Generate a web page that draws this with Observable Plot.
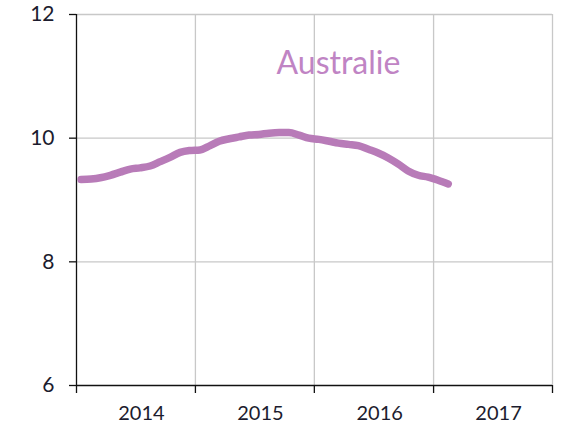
<!DOCTYPE html>
<html><head><meta charset="utf-8">
<script src="https://cdn.jsdelivr.net/npm/d3@7"></script>
<script src="https://cdn.jsdelivr.net/npm/@observablehq/plot@0.6"></script>
<style>html,body{margin:0;padding:0;background:#fff}</style>
</head><body><div id="chart"></div>
<script>
const months = ["2014-01","2014-02","2014-03","2014-04","2014-05","2014-06","2014-07","2014-08","2014-09","2014-10","2014-11","2014-12",
"2015-01","2015-02","2015-03","2015-04","2015-05","2015-06","2015-07","2015-08","2015-09","2015-10","2015-11","2015-12",
"2016-01","2016-02","2016-03","2016-04","2016-05","2016-06","2016-07","2016-08","2016-09","2016-10","2016-11","2016-12",
"2017-01","2017-02"];
const values = [9.33,9.34,9.36,9.40,9.45,9.50,9.52,9.55,9.62,9.69,9.77,9.80,
9.81,9.88,9.95,9.99,10.02,10.05,10.06,10.08,10.09,10.09,10.05,10.00,
9.98,9.95,9.92,9.90,9.88,9.82,9.76,9.68,9.58,9.47,9.40,9.37,
9.32,9.26];
const yearLabels = ["2014","2015","2016","2017"];
const yearBounds = ["2014","2015","2016","2017","2018"];
const yTicks = [6,8,10,12];
const seriesName = "Australie";
const labelAt = {date: "2016-03", value: 11.2};

const parseMonth = s => { const [y,m] = s.split("-").map(Number); return new Date(Date.UTC(y, m-1, 15)); };
const data = months.map((m,i) => ({date: parseMonth(m), value: values[i]}));
const bounds = yearBounds.map(y => new Date(Date.UTC(+y,0,1)));
const mids = yearLabels.map(y => new Date(Date.UTC(+y,6,1)));
const font = "Lato, 'Open Sans', sans-serif";

const chart = Plot.plot({
  width: 561, height: 430,
  marginLeft: 76, marginRight: 9, marginTop: 14, marginBottom: 45,
  style: {fontFamily: font, background: "#fff"},
  x: {type: "utc", domain: [bounds[0], bounds[bounds.length-1]]},
  y: {domain: [6, 12]},
  marks: [
    Plot.ruleY(yTicks.slice(1), {stroke: "#c8c8c8", strokeWidth: 1.3}),
    Plot.ruleX(bounds.slice(1), {stroke: "#c8c8c8", strokeWidth: 1.3}),
    Plot.ruleY([6], {stroke: "#111", strokeWidth: 1.3}),
    Plot.ruleX([bounds[0]], {stroke: "#111", strokeWidth: 1.3}),
    Plot.axisY({ticks: yTicks, tickFormat: d3.format("d"), tickSize: 7, tickPadding: 15, fontSize: 21, color: "#1c1c2e", stroke: "#111", strokeWidth: 1.3, label: null}),
    Plot.axisX({ticks: bounds, tickSize: 8, tickFormat: () => "", stroke: "#111", strokeWidth: 1.3, label: null}),
    Plot.axisX({ticks: mids, tickSize: 0, tickPadding: 20, tickFormat: (d,i) => yearLabels[i], fontSize: 20, color: "#1c1c2e", dx: 6, label: null}),
    Plot.line(data, {x: "date", y: "value", stroke: "#b87bb8", strokeWidth: 7.5, strokeLinecap: "round", strokeLinejoin: "round", curve: "monotone-x"}),
    Plot.text([labelAt], {x: d => parseMonth(d.date), y: "value", text: () => seriesName, fill: "#c084c4", fontSize: 32, fontFamily: font})
  ]
});
document.getElementById("chart").appendChild(chart);
</script>
</body></html>
